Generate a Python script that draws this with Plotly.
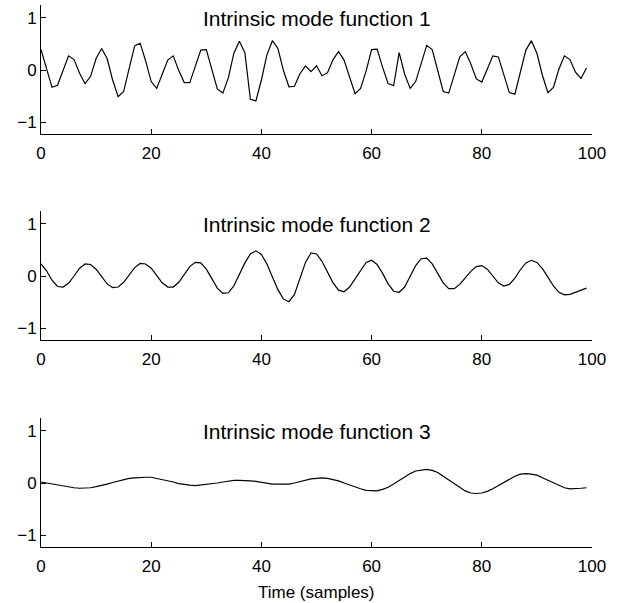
import plotly.graph_objects as go

samples = list(range(100))

imf1 = [0.39, 0.02, -0.33, -0.29, -0.01, 0.27, 0.20, -0.06, -0.26, -0.12,
        0.22, 0.41, 0.22, -0.19, -0.51, -0.41, 0.03, 0.46, 0.51, 0.17,
        -0.22, -0.35, -0.08, 0.19, 0.27, -0.01, -0.24, -0.24, 0.07, 0.38,
        0.39, 0.03, -0.36, -0.44, -0.15, 0.32, 0.55, 0.33, -0.56, -0.59,
        -0.19, 0.29, 0.56, 0.41, -0.01, -0.32, -0.31, -0.07, 0.08, -0.03,
        0.08, -0.11, -0.05, 0.20, 0.35, 0.19, -0.15, -0.45, -0.35, -0.02,
        0.39, 0.40, 0.05, -0.26, -0.30, 0.33, -0.08, -0.35, -0.22, 0.13,
        0.47, 0.39, 0.00, -0.41, -0.44, -0.10, 0.25, 0.35, 0.12, -0.17,
        -0.23, 0.02, 0.27, 0.25, -0.09, -0.43, -0.46, -0.03, 0.38, 0.56,
        0.32, -0.10, -0.43, -0.33, 0.02, 0.27, 0.20, -0.04, -0.16, 0.04]

imf2 = [0.23, 0.10, -0.08, -0.20, -0.21, -0.14, 0.00, 0.15, 0.23, 0.22,
        0.13, -0.01, -0.15, -0.22, -0.21, -0.12, 0.03, 0.16, 0.24, 0.23,
        0.15, 0.01, -0.13, -0.21, -0.21, -0.12, 0.03, 0.18, 0.26, 0.25,
        0.13, -0.05, -0.23, -0.33, -0.32, -0.19, 0.02, 0.25, 0.42, 0.48,
        0.41, 0.23, -0.02, -0.26, -0.44, -0.49, -0.35, -0.05, 0.26, 0.44,
        0.42, 0.28, 0.08, -0.13, -0.27, -0.30, -0.21, -0.05, 0.12, 0.26,
        0.30, 0.22, 0.05, -0.15, -0.29, -0.31, -0.21, -0.01, 0.20, 0.33,
        0.34, 0.23, 0.05, -0.13, -0.24, -0.24, -0.16, -0.04, 0.09, 0.18,
        0.20, 0.13, 0.00, -0.13, -0.19, -0.16, -0.04, 0.12, 0.25, 0.30,
        0.26, 0.14, -0.02, -0.19, -0.31, -0.36, -0.35, -0.31, -0.26, -0.23]

imf3 = [0.02, 0.00, -0.02, -0.04, -0.06, -0.08, -0.09, -0.10, -0.10, -0.09,
        -0.07, -0.05, -0.02, 0.01, 0.04, 0.07, 0.09, 0.10, 0.11, 0.11,
        0.11, 0.09, 0.07, 0.04, 0.02, -0.01, -0.03, -0.04, -0.05, -0.04,
        -0.03, -0.02, 0.00, 0.02, 0.04, 0.05, 0.05, 0.05, 0.04, 0.03,
        0.01, 0.00, -0.02, -0.02, -0.02, -0.02, 0.00, 0.03, 0.06, 0.08,
        0.09, 0.10, 0.09, 0.07, 0.04, 0.00, -0.04, -0.08, -0.11, -0.14,
        -0.15, -0.15, -0.12, -0.08, -0.02, 0.05, 0.12, 0.18, 0.23, 0.25,
        0.26, 0.24, 0.20, 0.13, 0.06, -0.02, -0.09, -0.15, -0.19, -0.20,
        -0.19, -0.16, -0.11, -0.05, 0.02, 0.08, 0.13, 0.17, 0.18, 0.17,
        0.15, 0.10, 0.05, 0.00, -0.05, -0.09, -0.11, -0.11, -0.10, -0.09]

titles = ["Intrinsic mode function 1", "Intrinsic mode function 2", "Intrinsic mode function 3"]
x_ticks = [0, 20, 40, 60, 80, 100]
y_ticks = [-1, 0, 1]
x_label = "Time (samples)"

FONT = "Liberation Sans, Arial, Helvetica, sans-serif"
W, H = 626, 603
mt, mb, ml, mr = 5, 56, 41, 34
plot_h = H - mt - mb
bottom_px = H - mb

# panel (top, bottom) in pixels
panels_px = [(5, 134), (211, 340), (418, 547)]

def dom(top, bot):
    return [(bottom_px - bot) / plot_h, (bottom_px - top) / plot_h]

fig = go.Figure()
series = [imf1, imf2, imf3]
for k, ys in enumerate(series):
    sfx = "" if k == 0 else str(k + 1)
    fig.add_trace(go.Scatter(x=samples, y=ys, mode="lines",
                             line=dict(color="black", width=1.2),
                             xaxis="x" + sfx, yaxis="y" + sfx,
                             showlegend=False, hoverinfo="skip"))
    axcommon = dict(showline=True, linecolor="black", linewidth=1,
                    ticks="inside", ticklen=5, tickwidth=1, tickcolor="black",
                    showgrid=False, zeroline=False, automargin=False,
                    tickfont=dict(family=FONT, size=17, color="black"))
    fig.update_layout(**{
        "xaxis" + sfx: dict(axcommon, domain=[0, 1], range=[0, 100],
                            tickvals=x_ticks, anchor="y" + sfx,
                            ticklabelstandoff=4),
        "yaxis" + sfx: dict(axcommon, domain=dom(*panels_px[k]),
                            range=[-1.22, 1.24], tickvals=y_ticks,
                            anchor="x" + sfx, ticklabelstandoff=0),
    })
    fig.add_annotation(x=50, y=0.99, xref="x" + sfx, yref="y" + sfx,
                       text=titles[k], showarrow=False, xanchor="center",
                       yanchor="middle",
                       font=dict(family=FONT, size=21, color="black"))

fig.add_annotation(x=50, xref="x3", y=(bottom_px - 592) / plot_h, yref="paper",
                   text=x_label, showarrow=False, xanchor="center", yanchor="middle",
                   font=dict(family=FONT, size=17, color="black"))

fig.update_layout(width=W, height=H, margin=dict(l=ml, r=mr, t=mt, b=mb),
                  paper_bgcolor="white", plot_bgcolor="white")

fig.write_html("out.html", config={"displayModeBar": False},
               post_script="document.body.style.margin='0';document.body.style.overflow='hidden';")
